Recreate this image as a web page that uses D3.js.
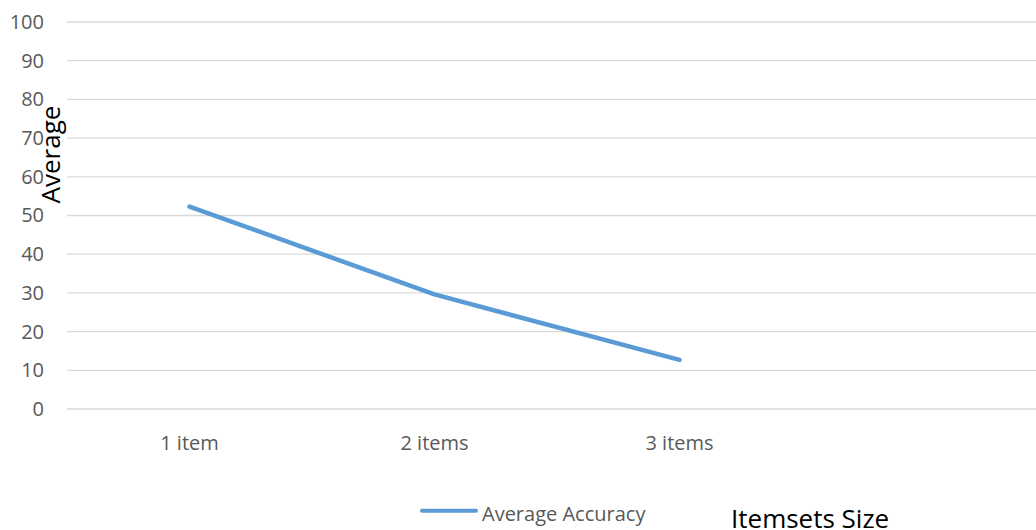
<!DOCTYPE html>
<html>
<head>
<meta charset="utf-8">
<script src="https://cdn.jsdelivr.net/npm/d3@7"></script>
<style>
  html, body { margin: 0; padding: 0; background: #fff; }
  svg { display: block; }
  text { font-family: "Open Sans", "Noto Sans", sans-serif; }
</style>
</head>
<body>
<svg id="chart" width="1036" height="530"></svg>
<script>
// Average accuracy per itemset size
const categories = ["1 item", "2 items", "3 items"];
const accuracy = [52.3, 29.6, 12.7];
const yTicks = [0, 10, 20, 30, 40, 50, 60, 70, 80, 90, 100];
const seriesName = "Average Accuracy";

const W = 1036, H = 530;
const plotLeft = 67, plotBottom = 409, plotTop = 22;
const step = 245;

const svg = d3.select("#chart");

const x = d3.scaleBand()
  .domain(categories)
  .range([plotLeft, plotLeft + step * categories.length]);

const y = d3.scaleLinear()
  .domain([0, 100])
  .range([plotBottom, plotTop]);

// horizontal gridlines
svg.append("g")
  .selectAll("line")
  .data(yTicks)
  .join("line")
  .attr("x1", plotLeft)
  .attr("x2", W)
  .attr("y1", d => y(d))
  .attr("y2", d => y(d))
  .attr("stroke", "#d9d9d9")
  .attr("stroke-width", 1.3);

// value axis labels
const yAxis = svg.append("g")
  .attr("transform", `translate(44,0)`)
  .call(d3.axisLeft(y).tickValues(yTicks).tickSize(0).tickPadding(0));
yAxis.select(".domain").remove();
yAxis.selectAll("text")
  .attr("font-size", 20)
  .attr("fill", "#595959")
  .attr("font-family", "'Open Sans', sans-serif");

// category axis labels
const xAxis = svg.append("g")
  .attr("transform", `translate(0,436)`)
  .call(d3.axisBottom(x).tickSize(0).tickPadding(0));
xAxis.select(".domain").remove();
xAxis.selectAll("text")
  .attr("font-size", 20)
  .attr("fill", "#595959")
  .attr("font-family", "'Open Sans', sans-serif");

// series line
const line = d3.line()
  .x((d, i) => x(categories[i]) + x.bandwidth() / 2)
  .y(d => y(d));

svg.append("path")
  .datum(accuracy)
  .attr("d", line)
  .attr("fill", "none")
  .attr("stroke", "#5b9bd5")
  .attr("stroke-width", 4.5)
  .attr("stroke-linecap", "round")
  .attr("stroke-linejoin", "round");

// axis titles
svg.append("text")
  .attr("transform", "translate(59.5,154.5) rotate(-90)")
  .attr("text-anchor", "middle")
  .attr("font-size", 26)
  .attr("fill", "#000")
  .text("Average");

svg.append("text")
  .attr("x", 731)
  .attr("y", 528)
  .attr("font-size", 26)
  .attr("fill", "#000")
  .text("Itemsets Size");

// legend
const legend = svg.append("g");
legend.append("line")
  .attr("x1", 422).attr("x2", 476)
  .attr("y1", 510.7).attr("y2", 510.7)
  .attr("stroke", "#5b9bd5")
  .attr("stroke-width", 4)
  .attr("stroke-linecap", "round");
legend.append("text")
  .attr("x", 482)
  .attr("y", 521)
  .attr("font-size", 20)
  .attr("fill", "#595959")
  .text(seriesName);
</script>
</body>
</html>
